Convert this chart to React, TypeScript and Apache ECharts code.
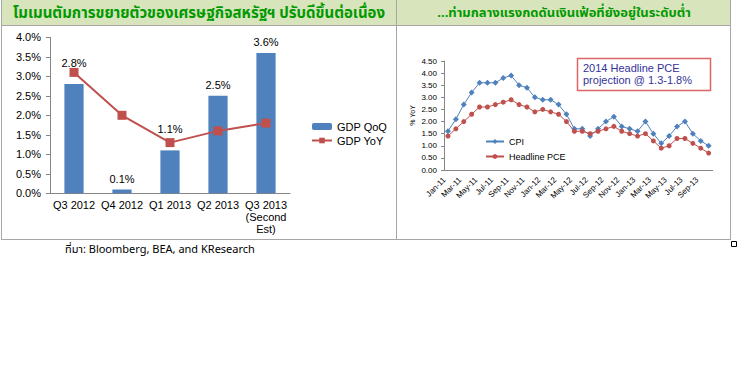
import React, { useEffect, useRef } from "react";
import * as echarts from "echarts";

const quarters = ["Q3 2012", "Q4 2012", "Q1 2013", "Q2 2013", "Q3 2013\n(Second\nEst)"];
const gdpQoQ = [2.8, 0.1, 1.1, 2.5, 3.6];
const gdpYoY = [3.1, 2.0, 1.3, 1.6, 1.8];

const months = [
  "Jan-11", "Feb-11", "Mar-11", "Apr-11", "May-11", "Jun-11", "Jul-11", "Aug-11", "Sep-11", "Oct-11", "Nov-11", "Dec-11",
  "Jan-12", "Feb-12", "Mar-12", "Apr-12", "May-12", "Jun-12", "Jul-12", "Aug-12", "Sep-12", "Oct-12", "Nov-12", "Dec-12",
  "Jan-13", "Feb-13", "Mar-13", "Apr-13", "May-13", "Jun-13", "Jul-13", "Aug-13", "Sep-13", "Oct-13",
];
const cpi = [1.6, 2.1, 2.7, 3.2, 3.6, 3.6, 3.6, 3.8, 3.9, 3.5, 3.4, 3.0, 2.9, 2.9, 2.7, 2.3, 1.7, 1.7, 1.4, 1.7, 2.0, 2.2, 1.8, 1.7, 1.6, 2.0, 1.5, 1.1, 1.4, 1.8, 2.0, 1.5, 1.2, 1.0];
const pce = [1.4, 1.7, 2.0, 2.3, 2.6, 2.6, 2.7, 2.8, 2.9, 2.7, 2.6, 2.4, 2.5, 2.4, 2.3, 2.0, 1.6, 1.6, 1.5, 1.6, 1.7, 1.8, 1.6, 1.5, 1.4, 1.5, 1.2, 0.9, 1.0, 1.3, 1.3, 1.1, 0.9, 0.7];

const titleLeft = "โมเมนตัมการขยายตัวของเศรษฐกิจสหรัฐฯ ปรับดีขึ้นต่อเนื่อง";
const titleRight = "...ท่ามกลางแรงกดดันเงินเฟ้อที่ยังอยู่ในระดับต่ำ";
const sourceText = "ที่มา: Bloomberg, BEA, and KResearch";
const boxText = "2014 Headline PCE\nprojection @ 1.3-1.8%";

const FONT = "'Liberation Sans', Arial, sans-serif";
const THAI = "Tahoma, 'Noto Sans Thai', 'Liberation Sans', sans-serif";
const BLUE = "#4f81bd";
const RED = "#c0504d";
const AX = "#868686";
const BORDER = "#a6a6a6";

export default function App() {
  const ref = useRef<HTMLDivElement>(null);
  useEffect(() => {
    const chart = echarts.init(ref.current!, null, { renderer: "svg" });
    const labelDist = [16, 5, 16, 5, 5];
    chart.setOption({
      animation: false,
      textStyle: { fontFamily: FONT },
      grid: [
        { left: 50, top: 37.3, width: 240, height: 156 },
        { left: 444, top: 61, width: 268.6, height: 109 },
      ],
      legend: [
        {
          orient: "vertical",
          left: 306,
          top: 116,
          itemWidth: 20,
          itemHeight: 7,
          itemGap: 3,
          textStyle: { fontSize: 11, color: "#000", fontFamily: FONT },
          data: ["GDP QoQ", "GDP YoY"],
        },
        {
          orient: "vertical",
          left: 480,
          top: 132,
          itemWidth: 18,
          itemHeight: 6,
          itemGap: 6,
          textStyle: { fontSize: 9, color: "#000", fontFamily: FONT },
          data: ["CPI", "Headline PCE"],
        },
      ],
      xAxis: [
        {
          type: "category",
          gridIndex: 0,
          data: quarters,
          axisLine: { lineStyle: { color: AX } },
          axisTick: { length: 4, lineStyle: { color: AX } },
          axisLabel: { color: "#000", fontSize: 11, interval: 0, margin: 6, lineHeight: 12 },
        },
        {
          type: "category",
          gridIndex: 1,
          data: months,
          axisLine: { lineStyle: { color: AX } },
          axisTick: { length: 3, interval: 1, alignWithLabel: true, lineStyle: { color: AX } },
          axisLabel: { color: "#000", fontSize: 8, interval: 1, rotate: 45, margin: 5, padding: [0, 5, 0, 0] },
        },
      ],
      yAxis: [
        {
          type: "value",
          gridIndex: 0,
          min: 0,
          max: 4,
          interval: 0.5,
          axisLine: { show: true, lineStyle: { color: AX } },
          axisTick: { show: true, length: 4, lineStyle: { color: AX } },
          splitLine: { show: false },
          axisLabel: { color: "#000", fontSize: 11, margin: 9, formatter: (v: number) => v.toFixed(1) + "%" },
        },
        {
          type: "value",
          gridIndex: 1,
          min: 0,
          max: 4.5,
          interval: 0.5,
          name: "% YoY",
          nameLocation: "middle",
          nameRotate: 90,
          nameGap: 28,
          nameTextStyle: { fontSize: 7, color: "#000", fontFamily: FONT },
          axisLine: { show: true, lineStyle: { color: AX } },
          axisTick: { show: true, length: 3, lineStyle: { color: AX } },
          splitLine: { show: false },
          axisLabel: { color: "#000", fontSize: 8, margin: 7, formatter: (v: number) => v.toFixed(2) },
        },
      ],
      series: [
        {
          name: "GDP QoQ",
          type: "bar",
          xAxisIndex: 0,
          yAxisIndex: 0,
          barWidth: "40%",
          itemStyle: { color: BLUE },
          data: gdpQoQ.map((v, i) => ({
            value: v,
            label: { distance: labelDist[i] },
          })),
          label: {
            show: true,
            position: "top",
            color: "#000",
            fontSize: 11,
            formatter: (p: any) => Number(p.value).toFixed(1) + "%",
          },
        },
        {
          name: "GDP YoY",
          type: "line",
          xAxisIndex: 0,
          yAxisIndex: 0,
          data: gdpYoY,
          symbol: "rect",
          symbolSize: 9,
          lineStyle: { color: RED, width: 2 },
          itemStyle: { color: RED },
        },
        {
          name: "CPI",
          type: "line",
          xAxisIndex: 1,
          yAxisIndex: 1,
          data: cpi,
          symbol: "diamond",
          symbolSize: 6,
          showAllSymbol: true,
          lineStyle: { color: BLUE, width: 1 },
          itemStyle: { color: BLUE },
        },
        {
          name: "Headline PCE",
          type: "line",
          xAxisIndex: 1,
          yAxisIndex: 1,
          data: pce,
          symbol: "circle",
          symbolSize: 5,
          showAllSymbol: true,
          lineStyle: { color: RED, width: 1 },
          itemStyle: { color: RED },
        },
      ],
      graphic: [
        { type: "rect", z: -10, shape: { x: 1, y: 0, width: 729, height: 25 }, style: { fill: "#d8e4bc" } },
        { type: "line", shape: { x1: 1, y1: 25.5, x2: 730, y2: 25.5 }, style: { stroke: BORDER, lineWidth: 1 } },
        { type: "line", shape: { x1: 1.5, y1: 0, x2: 1.5, y2: 239 }, style: { stroke: BORDER, lineWidth: 1 } },
        { type: "line", shape: { x1: 396.5, y1: 0, x2: 396.5, y2: 239 }, style: { stroke: BORDER, lineWidth: 1 } },
        { type: "line", shape: { x1: 730.5, y1: 0, x2: 730.5, y2: 239 }, style: { stroke: BORDER, lineWidth: 1 } },
        { type: "line", shape: { x1: 1, y1: 239.5, x2: 731, y2: 239.5 }, style: { stroke: BORDER, lineWidth: 1 } },
        { type: "rect", shape: { x: 731.5, y: 241.5, width: 5, height: 5 }, style: { fill: "#fff", stroke: "#000", lineWidth: 1 } },
        {
          type: "text",
          x: 199,
          y: 13,
          style: { text: titleLeft, fill: "#009a00", font: "bold 15px " + THAI, align: "center", verticalAlign: "middle" },
        },
        {
          type: "text",
          x: 564,
          y: 13,
          style: { text: titleRight, fill: "#009a00", font: "bold 13px " + THAI, align: "center", verticalAlign: "middle" },
        },
        {
          type: "text",
          x: 65,
          y: 249,
          style: { text: sourceText, fill: "#000", font: "11px " + THAI, verticalAlign: "middle" },
        },
        {
          type: "rect",
          shape: { x: 577.5, y: 58.5, width: 133, height: 32 },
          style: { fill: "#fff", stroke: "#e06666", lineWidth: 1.5 },
        },
        {
          type: "text",
          x: 583,
          y: 74,
          style: { text: boxText, fill: "#333399", font: "11px " + FONT, verticalAlign: "middle", lineHeight: 12 },
        },
      ],
    });
    return () => chart.dispose();
  }, []);
  return <div ref={ref} style={{ position: "fixed", left: 0, top: 0, width: 738, height: 384, background: "#fff" }} />;
}
